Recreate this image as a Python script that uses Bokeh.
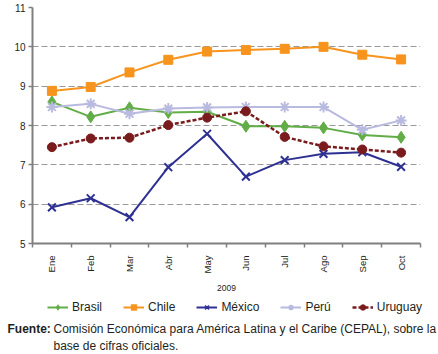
import math
from bokeh.plotting import figure
from bokeh.models import (Range1d, FixedTicker, Label, Legend, LegendItem, Title)
from bokeh.layouts import column
from bokeh.embed import file_html
from bokeh.resources import INLINE

months = ["Ene", "Feb", "Mar", "Abr", "May", "Jun", "Jul", "Ago", "Sep", "Oct"]
year_label = "2009"
brasil = [8.60, 8.22, 8.45, 8.33, 8.35, 7.98, 7.98, 7.94, 7.76, 7.70]
chile = [8.88, 8.98, 9.35, 9.67, 9.88, 9.92, 9.95, 10.00, 9.80, 9.68]
mexico = [5.92, 6.15, 5.67, 6.94, 7.79, 6.70, 7.12, 7.28, 7.32, 6.95]
peru = [8.47, 8.55, 8.30, 8.43, 8.46, 8.47, 8.47, 8.47, 7.89, 8.13]
uruguay = [7.45, 7.67, 7.69, 8.01, 8.20, 8.36, 7.71, 7.47, 7.39, 7.31]
y_ticks = [5, 6, 7, 8, 9, 10, 11]
source_bold = "Fuente:"
source_line1 = "Comisión Económica para América Latina y el Caribe (CEPAL), sobre la"
source_line2 = "base de cifras oficiales."

FONT = "Liberation Sans"
TXT = "#231f20"
AX = "#7f7f7f"

MAIN_H = 296
SRC_H = 354 - MAIN_H

xs = [i + 0.5 for i in range(len(months))]

p = figure(width=438, height=MAIN_H, output_backend="svg", toolbar_location=None,
           x_range=Range1d(0, len(months)), y_range=Range1d(5, 11),
           min_border_left=32, min_border_right=18, min_border_top=7,
           min_border_bottom=MAIN_H - 243)
p.frame_align = False
p.outline_line_color = None
p.background_fill_color = "white"
p.border_fill_color = "white"

p.xgrid.grid_line_color = None
p.ygrid.ticker = FixedTicker(ticks=y_ticks)
p.ygrid.grid_line_color = "#999999"
p.ygrid.grid_line_dash = "6 3"
p.ygrid.grid_line_width = 1.2

xa = p.xaxis[0]
xa.ticker = FixedTicker(ticks=xs, minor_ticks=list(range(len(months) + 1)))
xa.major_label_overrides = {x: m for x, m in zip(xs, months)}
xa.major_label_orientation = math.pi / 2
xa.major_tick_line_color = None
xa.minor_tick_line_color = AX
xa.minor_tick_line_width = 1.5
xa.minor_tick_out = 4
xa.minor_tick_in = 0
xa.axis_line_color = AX
xa.axis_line_width = 2
xa.major_label_text_font = FONT
xa.major_label_text_font_size = "9.5px"
xa.major_label_text_color = TXT
xa.major_label_standoff = 6

ya = p.yaxis[0]
ya.ticker = FixedTicker(ticks=y_ticks)
ya.minor_tick_line_color = None
ya.major_tick_line_color = AX
ya.major_tick_line_width = 1.5
ya.major_tick_out = 4
ya.major_tick_in = 0
ya.axis_line_color = AX
ya.axis_line_width = 2
ya.major_label_text_font = FONT
ya.major_label_text_font_size = "10px"
ya.major_label_text_color = TXT
ya.major_label_standoff = 3

series = [
    ("Brasil", brasil, "#62ad47", "diamond", 12, 1, "solid", 2),
    ("Chile", chile, "#f7941d", "square", 9, 1, "solid", 2),
    ("México", mexico, "#2e3192", "x", 11, 2, "solid", 2),
    ("Perú", peru, "#b9badf", "asterisk", 11, 2, "solid", 2),
    ("Uruguay", uruguay, "#7a1c1e", "circle", 9, 1, "4 2", 2.5),
]

p.add_layout(Title(text=year_label, align="center", text_font=FONT,
                   text_font_size="8.5px", text_font_style="normal",
                   text_color=TXT, standoff=12), "below")

# lower panel: legend and source note (its ranges hide the series' data)
q = figure(width=438, height=SRC_H, output_backend="svg", toolbar_location=None,
           x_range=Range1d(-2, -1), y_range=Range1d(-2, -1),
           x_axis_location=None, y_axis_location=None,
           min_border=0, min_border_left=0, min_border_right=0,
           min_border_top=0, min_border_bottom=0)
q.frame_align = False
q.outline_line_color = None
q.grid.visible = False

items = []
for name, vals, color, marker, size, mlw, dash, lw in series:
    p.line(xs, vals, line_color=color, line_width=lw, line_dash=dash)
    p.scatter(xs, vals, marker=marker, size=size, fill_color=color,
              line_color=color, line_width=mlw)
    k1 = q.line(xs, vals, line_color=color, line_width=lw, line_dash=dash)
    k2 = q.scatter(xs, vals, marker=marker, size=size * 0.65, fill_color=color,
                   line_color=color, line_width=mlw * 0.8)
    items.append(LegendItem(label=name, renderers=[k1, k2]))

legend = Legend(items=items, orientation="horizontal", location=(47, SRC_H - 18),
                label_text_font=FONT, label_text_font_size="12px",
                label_text_color=TXT, glyph_width=21, glyph_height=14,
                label_height=14, label_standoff=4, spacing=21, padding=0,
                margin=0, border_line_color=None, background_fill_alpha=0)
q.add_layout(legend, "center")

def note(text, x, y, bold=False):
    return Label(x=x, y=y, x_units="screen", y_units="screen", text=text,
                 text_align="left", text_baseline="middle", text_font=FONT,
                 text_font_size="12px",
                 text_font_style="bold" if bold else "normal", text_color=TXT)

q.add_layout(note(source_bold, 7, SRC_H - 32, bold=True))
q.add_layout(note(source_line1, 53, SRC_H - 32))
q.add_layout(note(source_line2, 53, SRC_H - 49))

layout = column(p, q, spacing=0)
open("out.html", "w").write(file_html(layout, INLINE))
